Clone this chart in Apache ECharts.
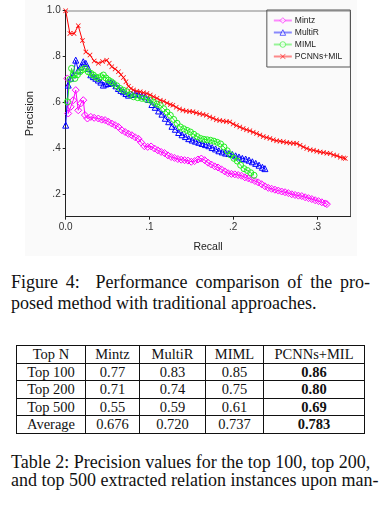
<!DOCTYPE html>
<html><head><meta charset="utf-8">
<script src="https://cdn.jsdelivr.net/npm/echarts@6/dist/echarts.min.js"></script>
<style>
html,body{margin:0;padding:0;background:#fff;width:391px;height:529px;overflow:hidden;}
body{position:relative;}
#bg{position:absolute;left:25px;top:0;width:332px;height:256px;background:#fafafa;}
#chart{position:absolute;left:0;top:0;width:391px;height:258px;}
.cap{position:absolute;left:11px;font-family:"Liberation Serif","Times New Roman",serif;font-size:18px;line-height:20px;color:#111;white-space:nowrap;}
.j{text-align:justify;text-align-last:justify;}
#tbl{position:absolute;left:16px;top:345px;border-collapse:collapse;table-layout:fixed;font-family:"Liberation Serif","Times New Roman",serif;font-size:14.5px;color:#111;}
#tbl td{border:1px solid #111;padding:0;height:16.6px;line-height:16.6px;text-align:center;white-space:nowrap;}
#tbl td.b{font-weight:bold;}
</style></head>
<body>
<div id="bg"></div>
<div id="chart"></div>
<div class="cap j" style="top:272px;width:359px;">Figure 4:&nbsp; Performance comparison of the pro-</div>
<div class="cap" style="top:293px;">posed method with traditional approaches.</div>
<table id="tbl"></table>
<div class="cap j" style="top:451.5px;width:357px;">Table 2: Precision values for the top 100, top 200,</div>
<div class="cap j" style="top:469.5px;width:350px;">and top 500 extracted relation instances upon man-</div>
<script>
// ---- chart data (recall, precision) ----
const seriesNames = ['Mintz', 'MultiR', 'MIML', 'PCNNs+MIL'];
const recallTicks = [0, 0.1, 0.2, 0.3];
const precisionTicks = [0.2, 0.4, 0.6, 0.8, 1.0];

const mintz = [
[0.002,0.704],[0.003,0.551],[0.006,0.58],[0.009,0.609],[0.012,0.653],[0.015,0.565],[0.018,0.595],[0.021,0.609],
[0.023,0.544],[0.026,0.529],[0.030,0.536],[0.034,0.532],[0.039,0.529],[0.043,0.524],[0.047,0.522],[0.051,0.515],
[0.055,0.507],[0.059,0.50],[0.063,0.492],[0.067,0.478],[0.071,0.47],[0.075,0.462],[0.079,0.456],[0.083,0.447],
[0.087,0.44],[0.090,0.425],[0.094,0.408],[0.098,0.405],[0.102,0.407],[0.106,0.398],[0.110,0.39],[0.114,0.383],
[0.118,0.378],[0.122,0.368],[0.126,0.361],[0.130,0.357],[0.134,0.352],[0.138,0.349],[0.142,0.347],[0.146,0.345],
[0.150,0.34],[0.154,0.343],[0.158,0.35],[0.162,0.354],[0.166,0.347],[0.170,0.336],[0.174,0.328],[0.178,0.32],
[0.182,0.315],[0.186,0.307],[0.190,0.298],[0.194,0.29],[0.198,0.287],[0.202,0.285],[0.206,0.282],[0.210,0.279],
[0.214,0.272],[0.218,0.268],[0.222,0.262],[0.226,0.256],[0.230,0.25],[0.234,0.242],[0.238,0.233],[0.242,0.226],
[0.246,0.222],[0.250,0.218],[0.254,0.214],[0.258,0.21],[0.262,0.207],[0.266,0.203],[0.270,0.198],[0.274,0.195],
[0.278,0.192],[0.282,0.19],[0.286,0.185],[0.290,0.181],[0.294,0.177],[0.298,0.172],[0.302,0.168],[0.306,0.163],
[0.310,0.158],[0.312,0.155]
];
const multiR = [
[0.000,0.50],[0.003,0.675],[0.006,0.705],[0.009,0.72],[0.012,0.784],[0.015,0.74],[0.018,0.755],[0.021,0.777],
[0.024,0.77],[0.027,0.748],[0.030,0.72],[0.033,0.712],[0.036,0.705],[0.039,0.697],[0.042,0.688],[0.045,0.675],
[0.048,0.68],[0.051,0.682],[0.054,0.686],[0.057,0.685],[0.060,0.672],[0.063,0.66],[0.066,0.652],[0.069,0.646],
[0.072,0.638],[0.075,0.631],[0.079,0.634],[0.083,0.638],[0.087,0.634],[0.091,0.628],[0.095,0.624],[0.099,0.612],
[0.103,0.59],[0.107,0.578],[0.111,0.562],[0.115,0.548],[0.119,0.53],[0.123,0.515],[0.127,0.495],[0.131,0.482],
[0.135,0.468],[0.139,0.458],[0.143,0.45],[0.147,0.441],[0.151,0.435],[0.155,0.43],[0.159,0.425],[0.163,0.42],
[0.167,0.415],[0.171,0.41],[0.175,0.402],[0.179,0.396],[0.183,0.388],[0.187,0.383],[0.191,0.378],[0.195,0.376],
[0.199,0.372],[0.203,0.366],[0.207,0.361],[0.211,0.355],[0.215,0.352],[0.219,0.347],[0.223,0.34],[0.227,0.333],
[0.231,0.325],[0.235,0.316],[0.238,0.31]
];
const miml = [
[0.002,0.602],[0.005,0.70],[0.007,0.748],[0.009,0.72],[0.011,0.704],[0.014,0.72],[0.017,0.733],[0.020,0.742],
[0.023,0.748],[0.027,0.733],[0.030,0.726],[0.033,0.719],[0.036,0.71],[0.039,0.704],[0.042,0.712],[0.045,0.719],
[0.048,0.706],[0.051,0.697],[0.054,0.69],[0.057,0.682],[0.061,0.672],[0.065,0.66],[0.069,0.652],[0.073,0.646],
[0.077,0.634],[0.081,0.624],[0.086,0.62],[0.091,0.617],[0.096,0.613],[0.101,0.609],[0.105,0.60],[0.109,0.592],
[0.113,0.587],[0.117,0.572],[0.121,0.557],[0.125,0.543],[0.129,0.525],[0.133,0.508],[0.137,0.492],[0.141,0.484],
[0.145,0.477],[0.149,0.47],[0.153,0.46],[0.157,0.45],[0.161,0.442],[0.165,0.438],[0.169,0.436],[0.173,0.434],
[0.177,0.43],[0.181,0.425],[0.185,0.418],[0.189,0.405],[0.193,0.388],[0.197,0.37],[0.201,0.355],[0.205,0.343],
[0.209,0.325],[0.213,0.31],[0.217,0.302],[0.221,0.292],[0.225,0.281]
];
const pcnnsMil = [
[0.000,1.0],[0.005,0.90],[0.010,0.90],[0.015,0.934],[0.020,0.87],[0.024,0.82],[0.029,0.806],[0.034,0.78],
[0.039,0.77],[0.044,0.778],[0.049,0.784],[0.052,0.77],[0.055,0.755],[0.059,0.745],[0.063,0.733],[0.066,0.72],
[0.069,0.708],[0.072,0.69],[0.075,0.67],[0.078,0.66],[0.081,0.653],[0.085,0.648],[0.089,0.646],[0.093,0.642],
[0.097,0.638],[0.101,0.632],[0.105,0.624],[0.109,0.617],[0.113,0.609],[0.117,0.604],[0.121,0.597],[0.125,0.59],
[0.128,0.587],[0.132,0.578],[0.136,0.57],[0.140,0.565],[0.144,0.562],[0.148,0.56],[0.152,0.558],[0.156,0.554],
[0.160,0.55],[0.164,0.547],[0.168,0.543],[0.172,0.536],[0.176,0.53],[0.180,0.524],[0.184,0.52],[0.188,0.518],
[0.192,0.516],[0.196,0.514],[0.200,0.505],[0.204,0.498],[0.208,0.492],[0.212,0.485],[0.216,0.48],[0.220,0.476],
[0.224,0.469],[0.228,0.463],[0.232,0.457],[0.236,0.45],[0.240,0.446],[0.244,0.442],[0.248,0.436],[0.252,0.432],
[0.256,0.43],[0.260,0.427],[0.264,0.424],[0.268,0.422],[0.272,0.421],[0.276,0.42],[0.280,0.412],[0.284,0.405],
[0.288,0.398],[0.292,0.393],[0.296,0.39],[0.300,0.386],[0.304,0.383],[0.308,0.38],[0.312,0.377],[0.316,0.376],
[0.320,0.37],[0.324,0.366],[0.328,0.36],[0.332,0.356],[0.334,0.354]
];

// ---- table data ----
const tableHeader = ['Top N', 'Mintz', 'MultiR', 'MIML', 'PCNNs+MIL'];
const tableRowLabels = ['Top 100', 'Top 200', 'Top 500', 'Average'];
const mintzTop = ['0.77', '0.71', '0.55', '0.676'];
const multiRTop = ['0.83', '0.74', '0.59', '0.720'];
const mimlTop = ['0.85', '0.75', '0.61', '0.737'];
const pcnnsTop = ['0.86', '0.80', '0.69', '0.783'];

// build table
(function(){
  const widths = [69, 54, 66, 58, 101];
  const t = document.getElementById('tbl');
  const cg = document.createElement('colgroup');
  widths.forEach(w => { const c = document.createElement('col'); c.style.width = w + 'px'; cg.appendChild(c); });
  t.appendChild(cg);
  const mk = (cells, boldLast) => {
    const tr = document.createElement('tr');
    cells.forEach((v, i) => { const td = document.createElement('td'); td.textContent = v; if (boldLast && i === cells.length - 1) td.className = 'b'; tr.appendChild(td); });
    t.appendChild(tr);
  };
  mk(tableHeader, false);
  tableRowLabels.forEach((l, i) => mk([l, mintzTop[i], multiRTop[i], mimlTop[i], pcnnsTop[i]], true));
})();

const colors = ['#ff00ff', '#0000ff', '#22ee22', '#ff0000'];
const symbols = ['diamond', 'triangle', 'circle', 'path://M0,1L1,0L5,4L9,0L10,1L6,5L10,9L9,10L5,6L1,10L0,9L4,5Z'];
const sizes = [7, 6, 6, 5];
const datas = [mintz, multiR, miml, pcnnsMil];
const fmt = v => (Math.abs(v) < 1e-9 ? '0.0' : Math.abs(v - 1) < 1e-9 ? '1.0' : '.' + Math.round(v * 10));
const font = '"Liberation Sans", Arial, sans-serif';

const chart = echarts.init(document.getElementById('chart'), null, {renderer: 'canvas'});
chart.setOption({
  animation: false,
  backgroundColor: 'transparent',
  grid: {left: 65.7, right: 40.7, top: 10.7, bottom: 41.3},
  legend: {
    orient: 'vertical', right: 40.7, top: 10,
    data: seriesNames.map((n, i) => ({
      name: n,
      itemStyle: i === 3 ? {color: colors[i], opacity: 0.6} : {color: '#fff', borderColor: colors[i], borderWidth: 1, opacity: 0.6}
    })),
    itemWidth: 18, itemHeight: 7, itemGap: 3,
    padding: [6, 8, 6, 6],
    borderColor: '#555', borderWidth: 1,
    textStyle: {fontFamily: font, fontSize: 8.5, color: '#222', padding: [0, 0, 0, -2]},
    lineStyle: {opacity: 0.45, width: 2}
  },
  xAxis: [{
    type: 'value', min: 0, max: 0.34,
    name: 'Recall', nameLocation: 'middle', nameGap: 25,
    nameTextStyle: {fontFamily: font, fontSize: 10.5, color: '#222'},
    axisLine: {show: true, onZero: false, lineStyle: {color: '#222', width: 1}},
    axisTick: {show: true, length: 3, customValues: recallTicks, lineStyle: {color: '#222'}},
    axisLabel: {customValues: recallTicks, formatter: fmt, fontFamily: font, fontSize: 10, color: '#333', margin: 6},
    splitLine: {show: false}
  }, {
    type: 'value', min: 0, max: 0.34, position: 'top',
    axisLine: {show: true, onZero: false, lineStyle: {color: '#aaa', width: 1.5}},
    axisTick: {show: false}, axisLabel: {show: false}, splitLine: {show: false}
  }],
  yAxis: [{
    type: 'value', min: 0.1, max: 1.0,
    name: 'Precision', nameLocation: 'middle', nameGap: 21, nameRotate: 90,
    nameTextStyle: {fontFamily: font, fontSize: 11, color: '#222'},
    axisLine: {show: true, onZero: false, lineStyle: {color: '#222', width: 1}},
    axisTick: {show: true, length: 3, customValues: precisionTicks, lineStyle: {color: '#222'}},
    axisLabel: {customValues: precisionTicks, formatter: fmt, fontFamily: font, fontSize: 10, color: '#333', margin: 5},
    splitLine: {show: false}
  }, {
    type: 'value', min: 0.1, max: 1.0, position: 'right',
    axisLine: {show: true, onZero: false, lineStyle: {color: '#555', width: 1}},
    axisTick: {show: false}, axisLabel: {show: false}, splitLine: {show: false}
  }],
  series: datas.map((d, i) => ({
    name: seriesNames[i], type: 'line', data: d,
    xAxisIndex: 0, yAxisIndex: 0,
    symbol: symbols[i], symbolSize: sizes[i], showSymbol: true,
    lineStyle: {color: colors[i], width: 1},
    itemStyle: i === 3 ? {color: colors[i]} : {color: 'rgba(255,255,255,0)', borderColor: colors[i], borderWidth: 1},
    z: 2 + i
  }))
});
</script>
</body></html>
